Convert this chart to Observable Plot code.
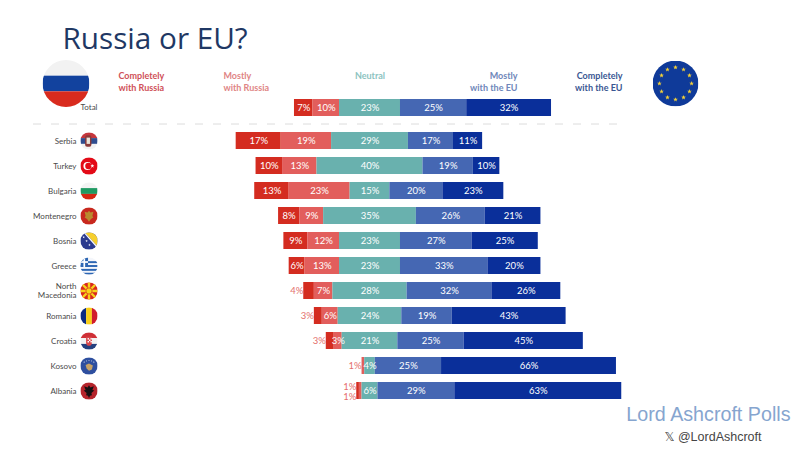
<!DOCTYPE html>
<html><head><meta charset="utf-8">
<script src="https://cdn.jsdelivr.net/npm/d3@7"></script>
<script src="https://cdn.jsdelivr.net/npm/@observablehq/plot@0.6"></script>
<style>html,body{margin:0;padding:0;background:#fff}svg{display:block}</style>
</head><body><div id="chart"></div>
<script>
const countries = ["Total","Serbia","Turkey","Bulgaria","Montenegro","Bosnia","Greece","North Macedonia","Romania","Croatia","Kosovo","Albania"];
const completelyRussia = [7,17,10,13,8,9,6,4,3,3,0,1];
const mostlyRussia     = [10,19,13,23,9,12,13,7,6,3,1,1];
const neutral          = [23,29,40,15,35,23,23,28,24,21,4,6];
const mostlyEU         = [25,17,19,20,26,27,33,32,19,25,25,29];
const completelyEU     = [32,11,10,23,21,25,20,26,43,45,66,63];
const categories = ["Completely with Russia","Mostly with Russia","Neutral","Mostly with the EU","Completely with the EU"];
const barColors = ["#d42c20","#e25e5c","#69b1ae","#4567b3","#0a2f9a"];
const headColors = ["#cf5058","#e08585","#8cc3bf","#6f87ba","#3a5692"];
const seriesValues = [completelyRussia,mostlyRussia,neutral,mostlyEU,completelyEU];

const font = "Lato, 'Open Sans', sans-serif";
const segments = [];
countries.forEach((c,i)=>{
  let at = -(neutral[i]/2) - mostlyRussia[i] - completelyRussia[i];
  const left = at;
  seriesValues.forEach((s,k)=>{
    const v = s[i];
    if (v>0) segments.push({country:c,cat:categories[k],value:v,x1:at,x2:at+v,left,k});
    at += v;
  });
});
const inside = d => d.k>1 || d.value>=5 || (d.k===1 && d.value===3);
const insideSeg = segments.filter(inside);
const outsideSeg = segments.filter(d=>!inside(d));
const isPair = d => d.country==="Albania";
const pxPerPct = 2.65, zeroPx = 369.5;
const xDomain = [-zeroPx/pxPerPct,(800-zeroPx)/pxPerPct];
const pctAt = px => (px-zeroPx)/pxPerPct;
const flagPath = inner => "data:image/svg+xml;utf8,"+encodeURIComponent(`<svg xmlns="http://www.w3.org/2000/svg" viewBox="0 0 36 36">${inner}</svg>`);
const stripesH = (a,b,c)=>`<rect width="36" height="12" fill="${a}"/><rect y="12" width="36" height="12" fill="${b}"/><rect y="24" width="36" height="12" fill="${c}"/>`;
const star = (cx,cy,r,f)=>{let p=[];for(let i=0;i<10;i++){const a=-Math.PI/2+i*Math.PI/5,q=i%2?r*.42:r;p.push((cx+q*Math.cos(a)).toFixed(2)+","+(cy+q*Math.sin(a)).toFixed(2));}return `<polygon points="${p.join(" ")}" fill="${f}"/>`;};
const flags = {
  Serbia: flagPath(stripesH("#c6363c","#2f4d8f","#f2f2f2")+`<rect x="10" y="6" width="13" height="24" rx="4" fill="#8a3a3a"/><rect x="13" y="11" width="7" height="13" fill="#e9e3d8"/>`),
  Turkey: flagPath(`<rect width="36" height="36" fill="#e30a17"/><circle cx="15" cy="18" r="8.5" fill="#fff"/><circle cx="17" cy="18" r="6.8" fill="#e30a17"/>`+star(25,18,4.2,"#fff")),
  Bulgaria: flagPath(stripesH("#f4f4f4","#1f9a62","#d62612")),
  Montenegro: flagPath(`<rect width="36" height="36" fill="#c8281e"/><path d="M18 7l3 4 6-2-2 9 2 3-5 3-4 6-4-6-5-3 2-3-2-9 6 2z" fill="#b98a2e"/>`),
  Bosnia: flagPath(`<rect width="36" height="36" fill="#2b3a8f"/><polygon points="9,0 36,0 36,30" fill="#f6cf2e"/><polygon points="6,0 9,0 36,30 36,34" fill="#fff"/>`+star(7,10,2.6,"#fff")+star(13,18,2.6,"#fff")+star(19,26,2.6,"#fff")),
  Greece: flagPath(`<rect width="36" height="36" fill="#f4f6fb"/><rect y="8" width="36" height="4" fill="#2d66b3"/><rect y="16" width="36" height="4" fill="#2d66b3"/><rect y="24" width="36" height="4" fill="#2d66b3"/><rect y="32" width="36" height="4" fill="#2d66b3"/><rect width="16" height="20" fill="#2d66b3"/><rect x="6.5" width="3.5" height="20" fill="#fff"/><rect y="8" width="16" height="3.5" fill="#fff"/>`),
  "North Macedonia": flagPath(`<rect width="36" height="36" fill="#d8281e"/><g stroke="#f7d21b" stroke-width="5"><line x1="18" y1="0" x2="18" y2="36"/><line x1="0" y1="18" x2="36" y2="18"/><line x1="2" y1="2" x2="34" y2="34"/><line x1="34" y1="2" x2="2" y2="34"/></g><circle cx="18" cy="18" r="6.5" fill="#f7d21b" stroke="#d8281e" stroke-width="1.5"/>`),
  Romania: flagPath(`<rect width="12" height="36" fill="#0b2a80"/><rect x="12" width="12" height="36" fill="#f8ce1a"/><rect x="24" width="12" height="36" fill="#d01c2c"/>`),
  Croatia: flagPath(stripesH("#cf2f36","#f3f3f3","#24407f")+`<path d="M12 9h12v12a6 7 0 0 1-12 0z" fill="#d8464a"/><rect x="15" y="12" width="3" height="3" fill="#fff"/><rect x="21" y="12" width="3" height="3" fill="#fff"/><rect x="18" y="15" width="3" height="3" fill="#fff"/><rect x="15" y="18" width="3" height="3" fill="#fff"/><rect x="21" y="18" width="3" height="3" fill="#fff"/>`),
  Kosovo: flagPath(`<rect width="36" height="36" fill="#2e4f9f"/><path d="M11 16l7-3 8 4-2 8-6 3-5-5z" fill="#c6a266"/>`+[8,13,18,23,28].map((x,i)=>star(x,[10,7.5,6.5,7.5,10][i],1.6,"#fff")).join("")),
  Albania: flagPath(`<rect width="36" height="36" fill="#b5242b"/><path d="M18 6l3 5 7-3-3 8 4 1-6 5 1 5-4 1-2 5-2-5-4-1 1-5-6-5 4-1-3-8 7 3z" fill="#141012"/>`)
};
const russiaFlag = flagPath(`<rect width="36" height="12" fill="#f2f2f2"/><rect y="12" width="36" height="12" fill="#12429e"/><rect y="24" width="36" height="12" fill="#d92b1e"/>`);
const euFlag = flagPath(`<rect width="36" height="36" fill="#0f3a99"/>`+d3.range(12).map(i=>star(18+12.6*Math.cos(i*Math.PI/6),18+12.6*Math.sin(i*Math.PI/6),1.9,"#f1cf3a")).join(""));
const rows = countries.filter(c=>c!=="Total");
const yDomain = ["Total","_",...rows];
const isTotal = d => d.country==="Total";
const rowLabels = rows.filter(c=>c!=="North Macedonia");
const heads = [
  {t:"Completely",x:118,y:76,a:"start",k:0},{t:"with Russia",x:118,y:87.5,a:"start",k:0},
  {t:"Mostly",x:223,y:76,a:"start",k:1},{t:"with Russia",x:223,y:87.5,a:"start",k:1},
  {t:"Neutral",x:369.5,y:76,a:"middle",k:2},
  {t:"Mostly",x:517,y:76,a:"end",k:3},{t:"with the EU",x:517,y:87.5,a:"end",k:3},
  {t:"Completely",x:622,y:76,a:"end",k:4},{t:"with the EU",x:622,y:87.5,a:"end",k:4}
];
const tl = (text,o)=>Plot.text([text],{frameAnchor:"top-left",lineAnchor:"middle",...o});
const totalShift = 17;
const labelStyle = {fill:"#fff",fontSize:9.5};
const outStyle = {fill:"#e46f6d",fontSize:9.5,dx:-7};
const plot = Plot.plot({
  width:800,height:450,margin:0,
  style:{background:"#fff",fontFamily:font},
  x:{domain:xDomain,range:[0,800],axis:null},
  y:{type:"band",domain:yDomain,range:[77.5,402.5],paddingInner:0.33,paddingOuter:0.165,axis:null},
  color:{domain:categories,range:barColors},
  marks:[
    Plot.ruleY(["_"],{x1:pctAt(33),x2:pctAt(622),dy:8,stroke:"#dcdcdc",strokeWidth:1,strokeDasharray:"8,10"}),
    Plot.barX(segments.filter(d=>!isTotal(d)),{x1:"x1",x2:"x2",y:"country",fill:"cat"}),
    Plot.barX(segments.filter(isTotal),{x1:"x1",x2:"x2",y:"country",fill:"cat",dy:totalShift}),
    Plot.text(insideSeg.filter(d=>!isTotal(d)),{x:d=>(d.x1+d.x2)/2,y:"country",text:d=>d.value+"%",...labelStyle}),
    Plot.text(insideSeg.filter(isTotal),{x:d=>(d.x1+d.x2)/2,y:"country",text:d=>d.value+"%",dy:totalShift,...labelStyle}),
    Plot.text(outsideSeg.filter(d=>!isPair(d)),{x:"left",y:"country",text:d=>d.value+"%",...outStyle}),
    Plot.text(outsideSeg.filter(d=>isPair(d)&&d.k===0),{x:"left",y:"country",text:d=>d.value+"%",dy:-4.5,...outStyle}),
    Plot.text(outsideSeg.filter(d=>isPair(d)&&d.k===1),{x:"left",y:"country",text:d=>d.value+"%",dy:6,...outStyle}),
    Plot.text(rowLabels,{y:d=>d,text:d=>d,frameAnchor:"left",dx:76,textAnchor:"end",fontSize:8,fill:"#4a4a4a"}),
    Plot.text(["North Macedonia"],{y:d=>d,text:()=>"North\nMacedonia",frameAnchor:"left",dx:76,textAnchor:"end",fontSize:8,lineHeight:1.12,fill:"#4a4a4a"}),
    Plot.image(rows,{y:d=>d,src:d=>flags[d],frameAnchor:"left",dx:88.5,r:8.7}),
    tl("Russia or EU?",{dx:62,dy:39,textAnchor:"start",fontSize:29.7,fontFamily:"'Open Sans',sans-serif",fill:"#1f3864"}),
    Plot.image([0],{src:()=>russiaFlag,frameAnchor:"top-left",dx:65.5,dy:83,r:23.5}),
    Plot.image([0],{src:()=>euFlag,frameAnchor:"top-left",dx:675,dy:83,r:23}),
    tl("Total",{dx:97,dy:107,textAnchor:"end",fontSize:8,fill:"#4a4a4a"}),
    ...heads.map(h=>tl(h.t,{dx:h.x,dy:h.y,textAnchor:h.a,fontSize:9,fontWeight:700,fill:headColors[h.k]})),
    tl("Lord Ashcroft Polls",{dx:790,dy:414,textAnchor:"end",fontSize:19.7,fontFamily:"'Liberation Sans',sans-serif",fill:"#86a5cf"}),
    tl("𝕏 @LordAshcroft",{dx:761,dy:436,textAnchor:"end",fontSize:12.5,fontFamily:"'Liberation Sans','DejaVu Sans',sans-serif",fill:"#444"})
  ]
});
document.getElementById("chart").append(plot);
</script></body></html>
